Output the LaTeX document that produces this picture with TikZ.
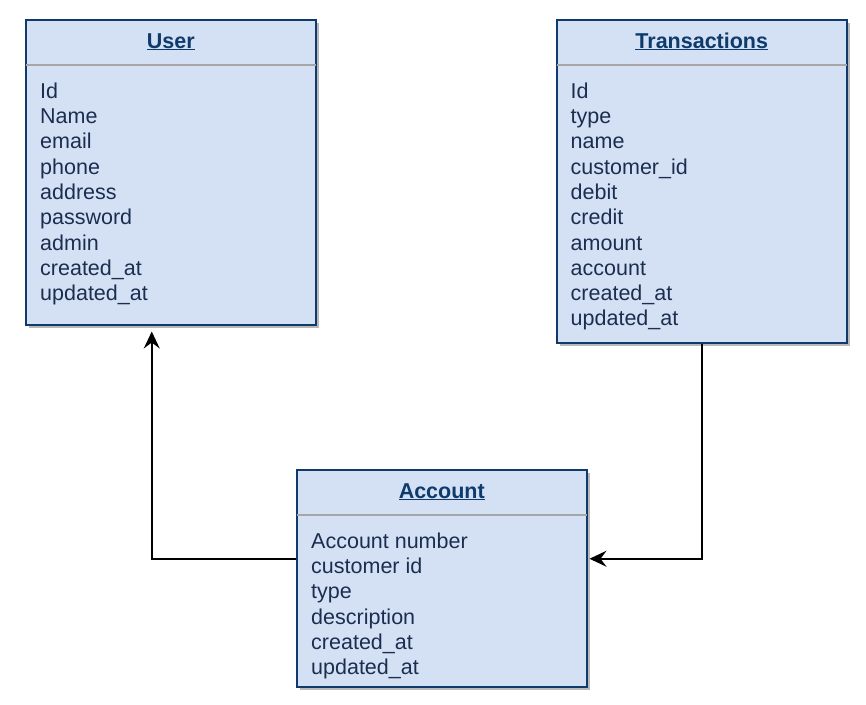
\documentclass[tikz,border=0pt]{standalone}
\usepackage{fontspec}
\setmainfont{Liberation Sans}
\usetikzlibrary{positioning, shadows, arrows.meta}
\definecolor{boxfill}{HTML}{D4E1F5}
\definecolor{boxline}{HTML}{0E3B6B}
\definecolor{txtcol}{HTML}{1C2E50}

\tikzset{
    table/.style={draw=boxline, fill=boxfill, line width=1.5pt, anchor=north west, inner sep=0pt,
        drop shadow={shadow xshift=3.5pt, shadow yshift=-3.5pt, fill=black!28, opacity=1}},
    title/.style={anchor=base, text=boxline, font=\fontsize{21.5}{25.3}\selectfont\bfseries},
    fields/.style={anchor=north west, inner sep=0pt, align=left, text=txtcol, font=\fontsize{21.5}{25.3}\selectfont},
    divider/.style={draw=black!35, line width=2pt},
    link/.style={draw=black, line width=1.6pt, -{Stealth[length=17pt, width=16pt, inset=6pt]}}
}

\begin{document}
\begin{tikzpicture}[x=1pt, y=-1pt]
    \useasboundingbox (0,0) rectangle (866,704);

    % tables
    \node[table, minimum width=290pt, minimum height=305pt] (user) at (25,19) {};
    \node[table, minimum width=290pt, minimum height=323pt] (trans) at (556,19) {};
    \node[table, minimum width=290pt, minimum height=217pt] (account) at (296,469) {};

    % headers
    \node[title] (usertitle) at ([yshift=-29pt]user.north) {\underline{User}};
    \node[title] (transtitle) at ([yshift=-29pt]trans.north) {\underline{Transactions}};
    \node[title] (accounttitle) at ([yshift=-29pt]account.north) {\underline{Account}};

    \foreach \t in {user, trans, account} {
        \draw[divider] ([yshift=-46pt, xshift=0.75pt]\t.north west) -- ([yshift=-46pt, xshift=-0.75pt]\t.north east);
    }

    % fields
    \node[fields] (userfields) at ([xshift=15pt, yshift=-63.5pt]user.north west)
        {Id\\Name\\email\\phone\\address\\password\\admin\\created\_at\\updated\_at};
    \node[fields] (transfields) at ([xshift=14.5pt, yshift=-63.5pt]trans.north west)
        {Id\\type\\name\\customer\_id\\debit\\credit\\amount\\account\\created\_at\\updated\_at};
    \node[fields] (accountfields) at ([xshift=15pt, yshift=-63.5pt]account.north west)
        {Account number\\customer id\\type\\description\\created\_at\\updated\_at};

    % relations
    \coordinate (userin) at ([xshift=-19pt, yshift=-6pt]user.south);
    \coordinate (accountin) at ([xshift=2pt, yshift=19.5pt]account.east);
    \draw[link] ([yshift=19.5pt]account.west) -| (userin);
    \draw[link] (trans.south) |- (accountin);
\end{tikzpicture}
\end{document}
